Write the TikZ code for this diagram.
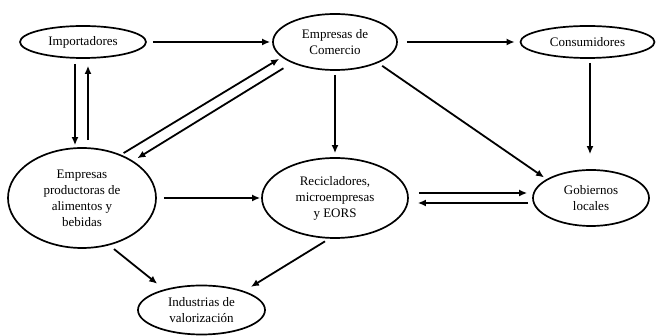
\documentclass[tikz,border=0pt]{standalone}
\usepackage{fontspec}
\setmainfont{Liberation Serif}
\usetikzlibrary{shapes.geometric,arrows.meta}
\begin{document}
\begin{tikzpicture}[x=1pt,y=-1pt,
  ell/.style={ellipse,draw,line width=1.7pt,inner sep=0pt,align=center,
    font=\fontsize{13}{16}\selectfont},
  arr/.style={line width=1.8pt,-{Latex[length=8pt,width=7pt]}}]
\useasboundingbox (0,0) rectangle (657,336);
\node[ell,minimum width=126pt,minimum height=32pt] (imp) at (83,42) {Importadores};
\node[ell,minimum width=124pt,minimum height=56pt] (com) at (335,42) {Empresas de\\Comercio};
\node[ell,minimum width=134pt,minimum height=32pt] (con) at (587.5,42) {Consumidores};
\node[ell,minimum width=148pt,minimum height=100pt] (prod) at (82,198) {Empresas\\productoras de\\alimentos y\\bebidas};
\node[ell,minimum width=146pt,minimum height=80pt] (rec) at (335,198) {Recicladores,\\microempresas\\y EORS};
\node[ell,minimum width=116pt,minimum height=56pt] (gob) at (591,198) {Gobiernos\\locales};
\node[ell,minimum width=127pt,minimum height=49pt] (ind) at (201.5,310) {Industrias de\\valorizaci\'on};
% arrows
\draw[arr,shorten <=6pt,shorten >=2pt] (imp.east) -- (com.west);
\draw[arr,shorten <=9pt,shorten >=5pt] (com.east) -- (con.west);
\draw[arr,shorten <=5pt,shorten >=2pt] ([xshift=-8pt]imp.south) -- ([xshift=-7pt]prod.north);
\draw[arr,shorten <=7pt,shorten >=7pt] ([xshift=6pt]prod.north) -- ([xshift=5pt]imp.south);
\draw[arr,shorten <=3pt,shorten >=3pt] (prod.48) -- (com.196);
\draw[arr,shorten <=10pt,shorten >=5pt] (com.206) -- (prod.36);
\draw[arr,shorten <=4pt,shorten >=4pt] (com.south) -- (rec.north);
\draw[arr,shorten <=5pt,shorten >=3pt] (com.334) -- (gob.157);
\draw[arr,shorten <=4pt,shorten >=15pt] ([xshift=2.5pt]con.south) -- ([xshift=-1pt]gob.north);
\draw[arr,shorten <=7pt,shorten >=1pt] (prod.east) -- (rec.west);
\draw[arr,shorten <=10pt,shorten >=5pt] ([yshift=5pt]rec.east) -- ([yshift=5pt]gob.west);
\draw[arr,shorten <=4pt,shorten >=9pt] ([yshift=-5pt]gob.west) -- ([yshift=-5pt]rec.east);
\draw[arr,shorten <=6pt,shorten >=9pt] (prod.300) -- (ind.151);
\draw[arr,shorten <=5pt,shorten >=8pt] (rec.262) -- (ind.24);
\end{tikzpicture}
\end{document}
